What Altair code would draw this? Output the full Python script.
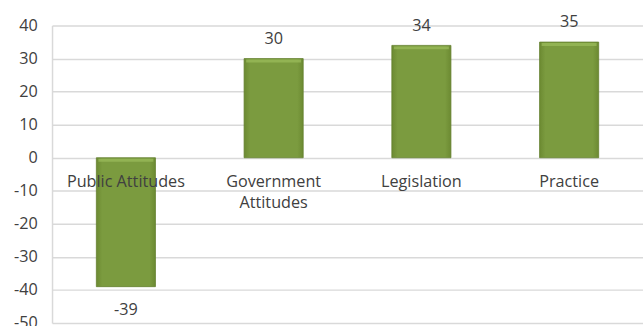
import altair as alt
import pandas as pd

categories = ["Public Attitudes", "Government Attitudes", "Legislation", "Practice"]
category_lines = [["Public Attitudes"], ["Government", "Attitudes"], ["Legislation"], ["Practice"]]
scores = [-39, 30, 34, 35]
y_ticks = [-50, -40, -30, -20, -10, 0, 10, 20, 30, 40]

df = pd.DataFrame({
    "category": categories,
    "lines": category_lines,
    "score": scores,
})

FONT = "Open Sans"
TEXT = "#404040"
GRID = "#d9d9d9"
SIZE = 16.5

x = alt.X("category:N", sort=categories, axis=None,
          scale=alt.Scale(paddingInner=0.6, paddingOuter=0.3))
y_scale = alt.Scale(domain=[-50, 40], nice=False, zero=False)
y_axis = alt.Axis(values=y_ticks, title=None,
                  grid=True, gridColor=GRID, gridWidth=1.5,
                  domainColor=GRID, domainWidth=1.5, ticks=False,
                  labelOverlap=False, labelFlush=False,
                  labelExpr="toString(datum.value)",
                  labelPadding=15, labelFontSize=SIZE, labelColor=TEXT,
                  labelFont=FONT)

base = alt.Chart(df).encode(x=x).transform_calculate(
    label="toString(datum.score)",
    top="max(datum.score, 0)",
)

bar_fill = alt.Gradient(
    gradient="linear", x1=0, x2=1, y1=0, y2=0,
    stops=[
        alt.GradientStop(color="#6c8a32", offset=0),
        alt.GradientStop(color="#7b9b3f", offset=0.1),
        alt.GradientStop(color="#7b9b3f", offset=0.9),
        alt.GradientStop(color="#6c8a32", offset=1),
    ],
)

bars = base.mark_bar(color=bar_fill, stroke="#64802e", strokeWidth=0.8).encode(
    y=alt.Y("score:Q", scale=y_scale, axis=y_axis),
    y2=alt.datum(0),
)

# light bevel along the top edge of each bar
bevel = base.mark_tick(color="#9cbd5c", thickness=3, size=56, yOffset=2.5).encode(
    y=alt.Y("top:Q", scale=y_scale, axis=y_axis),
)

pos_labels = base.transform_filter("datum.score >= 0").mark_text(
    font=FONT, fontSize=SIZE, color=TEXT, baseline="middle", dy=-20
).encode(y=alt.Y("score:Q", scale=y_scale, axis=y_axis), text="label:N")

neg_labels = base.transform_filter("datum.score < 0").mark_text(
    font=FONT, fontSize=SIZE, color=TEXT, baseline="middle", dy=24
).encode(y=alt.Y("score:Q", scale=y_scale, axis=y_axis), text="label:N")

cat_labels = base.mark_text(
    font=FONT, fontSize=SIZE, color=TEXT, baseline="middle", dy=25, lineHeight=21
).encode(y=alt.datum(0, scale=y_scale, axis=y_axis), text="lines")

chart = alt.layer(bars, bevel, pos_labels, neg_labels, cat_labels).properties(
    width=602, height=303,
    autosize=alt.AutoSizeParams(type="none"),
    padding={"left": 53, "top": 23, "right": 0, "bottom": 0},
    background="white",
).configure_view(stroke=None)

chart.save("out.html", embed_options={"renderer": "svg", "actions": False})
